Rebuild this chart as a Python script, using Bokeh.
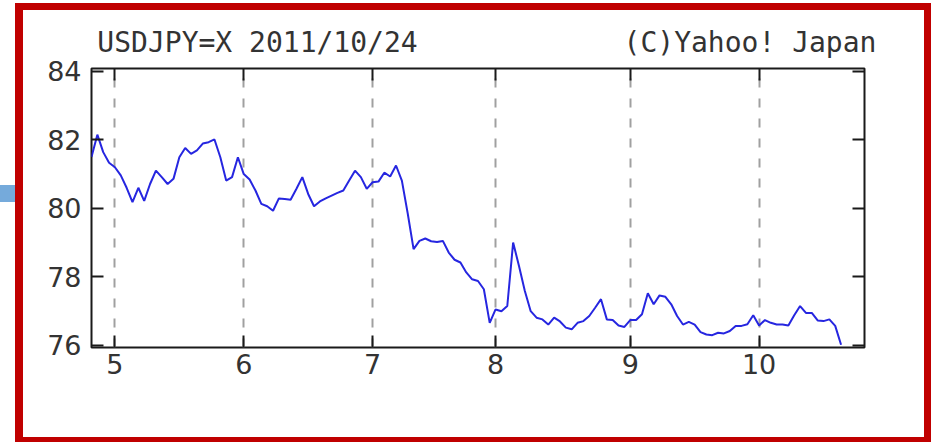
import numpy as np
import pandas as pd
from bokeh.plotting import figure
from bokeh.models import LinearAxis, FixedTicker, Range1d
from bokeh.embed import file_html
from bokeh.resources import INLINE

# ---- data ----
dates = pd.bdate_range("2011-04-26", "2011-10-21")
usdjpy = [
    81.50, 82.15, 81.64, 81.33, 81.20, 80.96, 80.60, 80.18, 80.60, 80.22,
    80.71, 81.10, 80.91, 80.71, 80.86, 81.49, 81.76, 81.59, 81.69, 81.89,
    81.93, 82.01, 81.49, 80.81, 80.91, 81.49, 81.00, 80.84, 80.52, 80.13,
    80.06, 79.93, 80.29, 80.27, 80.25, 80.57, 80.91, 80.42, 80.06, 80.20,
    80.29, 80.37, 80.45, 80.52, 80.81, 81.10, 80.91, 80.57, 80.76, 80.78,
    81.04, 80.93, 81.25, 80.81, 79.85, 78.81, 79.05, 79.12, 79.04, 79.02,
    79.05, 78.71, 78.50, 78.42, 78.13, 77.93, 77.88, 77.64, 76.66, 77.05,
    77.00, 77.15, 79.00, 78.32, 77.59, 77.00, 76.81, 76.76, 76.61, 76.81,
    76.70, 76.52, 76.47, 76.66, 76.71, 76.86, 77.10, 77.35, 76.76, 76.74,
    76.58, 76.54, 76.74, 76.74, 76.91, 77.52, 77.20, 77.46, 77.42, 77.20,
    76.86, 76.61, 76.69, 76.61, 76.39, 76.32, 76.30, 76.37, 76.35, 76.42,
    76.57, 76.57, 76.62, 76.88, 76.58, 76.74, 76.66, 76.61, 76.61, 76.58,
    76.88, 77.15, 76.95, 76.95, 76.73, 76.71, 76.76, 76.57, 76.02,
]
month_labels = ["5", "6", "7", "8", "9", "10"]
y_ticks = [76, 78, 80, 82, 84]
title_left = "USDJPY=X 2011/10/24"
title_right = "(C)Yahoo! Japan"

x_idx = list(range(len(dates)))
month_idx = [i for i in range(1, len(dates)) if dates[i].month != dates[i - 1].month]

# ---- figure ----
p = figure(width=932, height=442, x_range=Range1d(0, 132), y_range=Range1d(75.94, 84.08),
           output_backend="svg", toolbar_location=None,
           min_border_left=91, min_border_right=68, min_border_top=68, min_border_bottom=95)
p.background_fill_color = "white"
p.border_fill_alpha = 0
p.outline_line_color = "#1a1a1a"
p.outline_line_width = 2

# page decoration (red picture frame and the small blue bar at its left)
red = "linear-gradient(#c00000,#c00000)"
p.styles = {
    "background-color": "white",
    "background-image": ", ".join([red, red, red, red, "linear-gradient(#75aadb,#75aadb)"]),
    "background-size": "916px 7px, 8px 439px, 7px 439px, 916px 5px, 15px 17px",
    "background-position": "15px 3px, 15px 3px, 924px 3px, 15px 437px, 0px 185px",
    "background-repeat": "no-repeat",
}

lab_font = "DejaVu Sans"
def style_axis(ax, show_labels=True):
    ax.axis_line_color = None
    ax.major_tick_line_color = "#1a1a1a"
    ax.major_tick_line_width = 2
    ax.major_tick_in = 12
    ax.major_tick_out = 0
    ax.minor_tick_line_color = None
    ax.major_label_text_font = lab_font
    ax.major_label_text_font_size = "27px"
    ax.major_label_text_color = "#333333"
    if not show_labels:
        ax.major_label_text_font_size = "0px"
        ax.major_label_text_color = None

p.xaxis.ticker = FixedTicker(ticks=month_idx)
p.xaxis.major_label_overrides = {i: lab for i, lab in zip(month_idx, month_labels)}
p.yaxis.ticker = FixedTicker(ticks=y_ticks)
for ax in p.xaxis:
    style_axis(ax)
    ax.major_label_standoff = 6
for ax in p.yaxis:
    style_axis(ax)
    ax.major_label_standoff = 10

# top axis: month tick marks (minor ticks) + the two heading texts (major labels)
title_pos = [28.35, 112.45]
top_ax = LinearAxis(ticker=FixedTicker(ticks=title_pos, minor_ticks=month_idx))
top_ax.axis_line_color = None
top_ax.major_tick_line_color = None
top_ax.major_tick_in = 0
top_ax.major_tick_out = 0
top_ax.minor_tick_line_color = "#1a1a1a"
top_ax.minor_tick_line_width = 2
top_ax.minor_tick_in = 12
top_ax.minor_tick_out = 0
top_ax.major_label_overrides = {title_pos[0]: title_left, title_pos[1]: title_right}
top_ax.major_label_text_font = "DejaVu Sans Mono"
top_ax.major_label_text_font_size = "28px"
top_ax.major_label_text_color = "#333333"
top_ax.major_label_standoff = 10
p.add_layout(top_ax, "above")

right_ax = LinearAxis(ticker=FixedTicker(ticks=y_ticks))
style_axis(right_ax, False)
p.add_layout(right_ax, "right")

p.xgrid.ticker = FixedTicker(ticks=month_idx)
p.xgrid.grid_line_color = "#a0a0a0"
p.xgrid.grid_line_width = 2
p.xgrid.grid_line_dash = "9 11"
p.ygrid.visible = False

p.line(x_idx, usdjpy, line_color="#2626e0", line_width=2)

open("out.html", "w").write(file_html(p, INLINE))
